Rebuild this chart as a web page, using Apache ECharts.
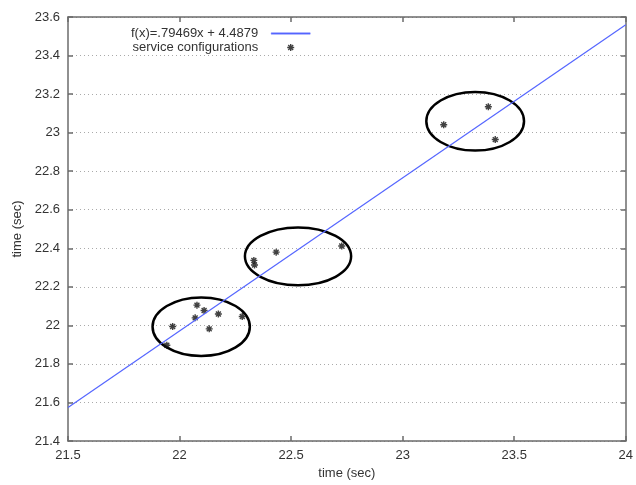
<!DOCTYPE html>
<html>
<head>
<meta charset="utf-8">
<script src="https://cdn.jsdelivr.net/npm/echarts@6/dist/echarts.min.js"></script>
<style>
  html, body { margin: 0; padding: 0; background: #fff; }
</style>
</head>
<body>
<div id="chart" style="width: 636px; height: 485px;"></div>
<script>
// measured service configurations (x = time, y = time)
const pointX = [21.943, 21.969, 22.070, 22.078, 22.110, 22.133, 22.174, 22.281,
                22.333, 22.336, 22.433, 22.727,
                23.184, 23.384, 23.415];
const pointY = [21.897, 21.994, 22.039, 22.105, 22.077, 21.982, 22.059, 22.046,
                22.337, 22.313, 22.380, 22.412,
                23.041, 23.134, 22.964];

// fitted line f(x)=.79469x + 4.4879, end points
const lineX = [21.5, 24];
const lineY = [21.574, 23.560];

// cluster ellipses: centre and half sizes in data units
const ellCx = [22.097, 22.531, 23.325];
const ellCy = [21.993, 22.358, 23.059];
const ellRx = [0.218, 0.238, 0.219];
const ellRy = [0.152, 0.150, 0.152];

const xTicks = { min: 21.5, max: 24, interval: 0.5 };
const yTicks = { min: 21.4, max: 23.6, interval: 0.2 };

const fmt = v => String(parseFloat(v.toFixed(2)));
const axisColor = '#6b6b6b';
const lineColor = '#5566ff';
const font = 'Liberation Sans';
const starPath = 'path://M0,5L10,5M5,0L5,10M1.5,1.5L8.5,8.5M8.5,1.5L1.5,8.5';
const starStyle = { color: 'rgba(0,0,0,0)', borderColor: '#111', borderWidth: 1.4 };

const chart = echarts.init(document.getElementById('chart'));

const baseAxis = {
  type: 'value',
  axisLine: { show: true, lineStyle: { color: axisColor, width: 1.5 } },
  axisTick: { show: true, inside: true, length: 5, lineStyle: { color: axisColor, width: 1.5 } },
  axisLabel: { color: '#333', fontSize: 13, fontFamily: font, formatter: fmt },
  splitLine: { show: false }
};

chart.setOption({
  animation: false,
  backgroundColor: '#fff',
  grid: { left: 68, right: 7, top: 17, bottom: 40 },
  legend: {
    orient: 'vertical',
    left: 126,
    top: 22,
    align: 'right',
    itemWidth: 39,
    itemHeight: 7,
    itemGap: 1,
    textStyle: { color: '#333', fontSize: 13, fontFamily: font, padding: [0, 8, 0, 0] },
    data: [
      {
        name: 'f(x)=.79469x + 4.4879',
        icon: 'path://M0,0H40V1.4H0Z',
        itemStyle: { color: lineColor, borderColor: lineColor, borderWidth: 0.4 }
      },
      {
        name: 'service configurations',
        icon: starPath,
        itemStyle: starStyle
      }
    ]
  },
  xAxis: [
    Object.assign({}, baseAxis, {
      min: xTicks.min, max: xTicks.max, interval: xTicks.interval,
      position: 'bottom',
      name: 'time (sec)',
      nameLocation: 'middle',
      nameGap: 26,
      nameTextStyle: { color: '#333', fontSize: 13, fontFamily: font }
    }),
    Object.assign({}, baseAxis, {
      min: xTicks.min, max: xTicks.max, interval: xTicks.interval,
      position: 'top',
      axisLabel: { show: false }
    })
  ],
  yAxis: [
    Object.assign({}, baseAxis, {
      min: yTicks.min, max: yTicks.max, interval: yTicks.interval,
      position: 'left',
      name: 'time (sec)',
      nameLocation: 'middle',
      nameGap: 44,
      nameTextStyle: { color: '#333', fontSize: 13, fontFamily: font },
      splitLine: { show: true, lineStyle: { color: '#aaa', width: 1, type: [1, 3] } }
    }),
    Object.assign({}, baseAxis, {
      min: yTicks.min, max: yTicks.max, interval: yTicks.interval,
      position: 'right',
      axisLabel: { show: false }
    })
  ],
  series: [
    {
      name: 'f(x)=.79469x + 4.4879',
      type: 'line',
      symbol: 'none',
      lineStyle: { color: lineColor, width: 1.2 },
      itemStyle: { color: lineColor },
      data: lineX.map((x, i) => [x, lineY[i]])
    },
    {
      name: 'service configurations',
      type: 'scatter',
      symbol: starPath,
      symbolSize: 7,
      itemStyle: starStyle,
      data: pointX.map((x, i) => [x, pointY[i]])
    },
    {
      type: 'custom',
      silent: true,
      renderItem: function (params, api) {
        const c = api.coord([api.value(0), api.value(1)]);
        const s = api.size([api.value(2), api.value(3)]);
        return {
          type: 'ellipse',
          shape: { cx: c[0], cy: c[1], rx: s[0], ry: s[1] },
          style: { fill: 'none', stroke: '#000', lineWidth: 2.5 }
        };
      },
      data: ellCx.map((x, i) => [x, ellCy[i], ellRx[i], ellRy[i]])
    }
  ]
});
</script>
</body>
</html>
